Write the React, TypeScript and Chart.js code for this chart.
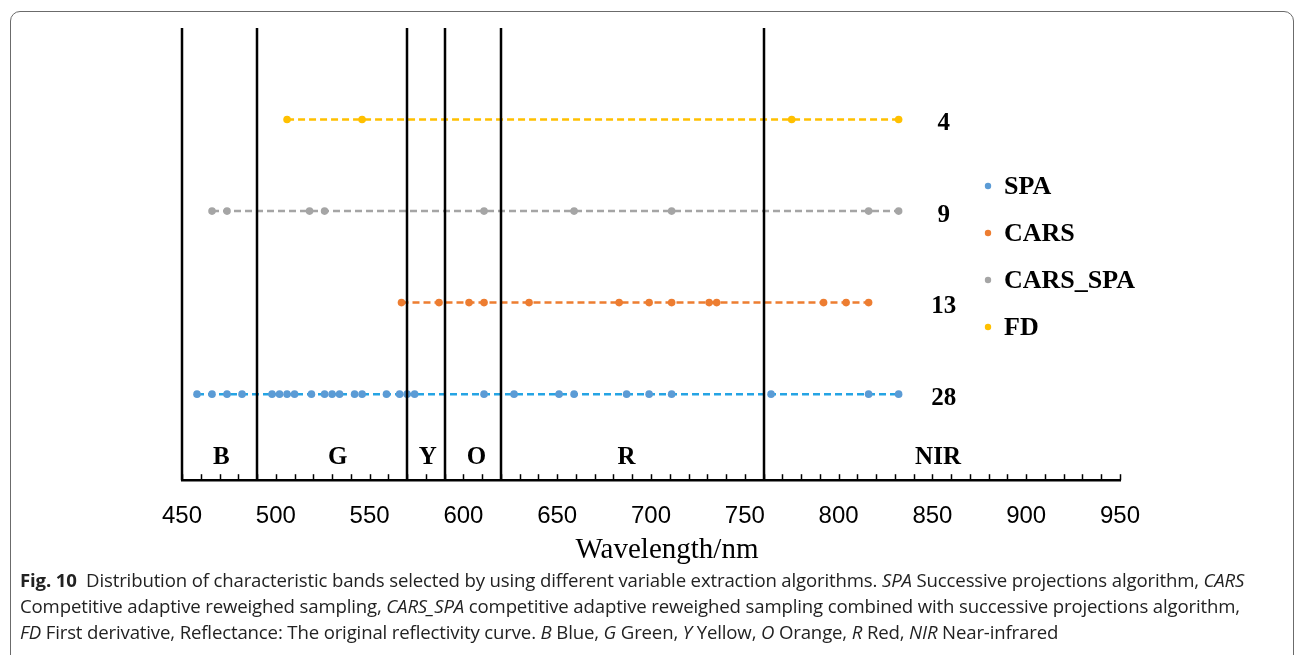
import React, { useEffect, useRef } from "react";
import { Chart, registerables } from "chart.js";

Chart.register(...registerables);

// Selected wavelengths (nm) for each extraction algorithm
const spaBands = [458, 466, 474, 482, 498, 502, 506, 510, 519, 526, 530, 534, 542, 546, 559, 566, 570, 574, 611, 627, 651, 659, 687, 699, 711, 764, 816, 832];
const carsBands = [567, 587, 603, 611, 635, 683, 699, 711, 731, 735, 792, 804, 816];
const carsSpaBands = [466, 474, 518, 526, 611, 659, 711, 816, 832];
const fdBands = [506, 546, 775, 832];

const seriesNames = ["SPA", "CARS", "CARS_SPA", "FD"];
const seriesRows = [1, 2, 3, 4];
const seriesBands = [spaBands, carsBands, carsSpaBands, fdBands];
const lineColors = ["#25a4e4", "#ed7d31", "#a5a5a5", "#ffc000"];
const pointColors = ["#5b9bd5", "#ed7d31", "#a5a5a5", "#ffc000"];

// Spectral regions
const regionBounds = [450, 490, 570, 590, 620, 760];
const regionNames = ["B", "G", "Y", "O", "R", "NIR"];
const regionLabelAt = [471, 533, 581, 607, 687, 853];
const regionLabelRow = 0.31;
const countLabelAt = 856;

// Axis ticks
const xTickValues = [450, 500, 550, 600, 650, 700, 750, 800, 850, 900, 950];
const minorTickStep = 10;
const xTitle = "Wavelength/nm";

const serif = "'Liberation Serif', 'Times New Roman', serif";

const overlayPlugin = {
  id: "bandOverlay",
  afterDatasetsDraw(chart: any) {
    const { ctx, chartArea, scales } = chart;
    const xs = scales.x;
    const ys = scales.y;
    ctx.save();

    // region boundaries
    ctx.strokeStyle = "#000";
    ctx.lineWidth = 2.5;
    regionBounds.forEach((b) => {
      const px = Math.round(xs.getPixelForValue(b));
      ctx.beginPath();
      ctx.moveTo(px, chartArea.top);
      ctx.lineTo(px, chartArea.bottom);
      ctx.stroke();
    });

    // minor ticks pointing into the plot
    ctx.lineWidth = 1.5;
    for (let v = xs.min; v <= xs.max + 0.001; v += minorTickStep) {
      const px = Math.round(xs.getPixelForValue(v)) + 0.5;
      ctx.beginPath();
      ctx.moveTo(px, chartArea.bottom);
      ctx.lineTo(px, chartArea.bottom - 6);
      ctx.stroke();
    }

    // region letters
    ctx.fillStyle = "#000";
    ctx.font = `bold 25px ${serif}`;
    ctx.textAlign = "center";
    ctx.textBaseline = "middle";
    regionNames.forEach((n, i) => {
      ctx.fillText(n, xs.getPixelForValue(regionLabelAt[i]), ys.getPixelForValue(regionLabelRow));
    });

    // number of selected bands per algorithm
    seriesBands.forEach((arr, i) => {
      ctx.fillText(String(arr.length), xs.getPixelForValue(countLabelAt), ys.getPixelForValue(seriesRows[i]) + 4);
    });

    // legend
    ctx.font = `bold 26px ${serif}`;
    ctx.textAlign = "left";
    const lx = chartArea.right - 132;
    const ly = chartArea.top + 158;
    seriesNames.forEach((n, i) => {
      const y = ly + i * 47;
      ctx.fillStyle = pointColors[i];
      ctx.beginPath();
      ctx.arc(lx, y, 3.2, 0, Math.PI * 2);
      ctx.fill();
      ctx.fillStyle = "#000";
      ctx.fillText(n, lx + 16, y + 1);
    });

    // axis title
    ctx.font = `29px ${serif}`;
    ctx.textAlign = "center";
    ctx.fillText(xTitle, (chartArea.left + chartArea.right) / 2 + 16, chartArea.bottom + 70);

    ctx.restore();
  },
};

function BandChart() {
  const ref = useRef<HTMLCanvasElement | null>(null);

  useEffect(() => {
    if (!ref.current) return;
    const datasets = seriesBands.map((arr, i) => ({
      label: seriesNames[i],
      data: arr.map((x) => ({ x, y: seriesRows[i] })),
      showLine: true,
      borderColor: lineColors[i],
      borderWidth: 2.5,
      borderDash: [7, 4],
      pointRadius: 3.8,
      pointBorderWidth: 0,
      pointBackgroundColor: pointColors[i],
      pointHoverRadius: 3.8,
    }));

    const chart = new Chart(ref.current, {
      type: "scatter",
      data: { datasets },
      options: {
        animation: false,
        responsive: false,
        devicePixelRatio: 1,
        layout: { padding: { left: 171, right: 162, top: 16, bottom: 19 } },
        plugins: { legend: { display: false }, tooltip: { enabled: false } },
        scales: {
          x: {
            type: "linear",
            min: 450,
            max: 950,
            afterBuildTicks: (s: any) => {
              s.ticks = xTickValues.map((v) => ({ value: v }));
            },
            grid: { display: false, drawTicks: false },
            border: { display: true, color: "#000", width: 2.5 },
            ticks: {
              color: "#000",
              padding: 22,
              font: { family: "'Liberation Sans', Arial, sans-serif", size: 24 },
            },
          },
          y: { display: false, min: 0.06, max: 5 },
        },
      },
      plugins: [overlayPlugin],
    });
    return () => chart.destroy();
  }, []);

  return (
    <canvas
      ref={ref}
      width={1271}
      height={560}
      style={{ position: "absolute", left: 0, top: 0, width: 1271, height: 560 }}
    />
  );
}

const capFont = "'Open Sans', 'Noto Sans', sans-serif";

export default function App() {
  return (
    <div style={{ position: "fixed", left: 0, top: 0, width: 1295, height: 655, overflow: "hidden", background: "#fff" }}>
      <div
        style={{
          position: "absolute",
          left: 10,
          top: 11,
          width: 1284,
          height: 660,
          boxSizing: "border-box",
          border: "1.2px solid #6b6b6b",
          borderRadius: 10,
          background: "#fff",
        }}
      >
        <BandChart />
        <div
          style={{
            position: "absolute",
            left: 9,
            top: 555,
            fontFamily: capFont,
            fontSize: 18.6,
            letterSpacing: -0.15,
            lineHeight: "26px",
            color: "#222",
            whiteSpace: "nowrap",
          }}
        >
          <div>
            <b>Fig. 10</b>&nbsp;&nbsp;Distribution of characteristic bands selected by using different variable extraction algorithms. <i>SPA</i> Successive projections algorithm, <i>CARS</i>
          </div>
          <div>
            Competitive adaptive reweighed sampling, <i>CARS_SPA</i> competitive adaptive reweighed sampling combined with successive projections algorithm,
          </div>
          <div>
            <i>FD</i> First derivative, Reflectance: The original reflectivity curve. <i>B</i> Blue, <i>G</i> Green, <i>Y</i> Yellow, <i>O</i> Orange, <i>R</i> Red, <i>NIR</i> Near-infrared
          </div>
        </div>
      </div>
    </div>
  );
}
